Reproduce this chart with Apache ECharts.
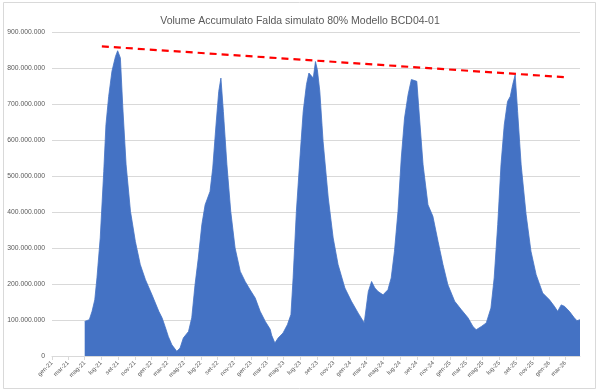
<!DOCTYPE html>
<html>
<head>
<meta charset="utf-8">
<script src="https://cdn.jsdelivr.net/npm/echarts@6/dist/echarts.min.js"></script>
<style>html,body{margin:0;padding:0;background:#fff}#c{width:600px;height:391px}</style>
</head>
<body>
<div id="c"></div>
<script>
const dates = [
'2021-05-01','2021-05-18','2021-05-28','2021-06-07','2021-06-15','2021-06-27','2021-07-10','2021-07-18','2021-07-28','2021-08-09',
'2021-08-22','2021-08-30','2021-09-09','2021-09-18','2021-09-30','2021-10-16','2021-11-03','2021-11-21','2021-12-10','2022-01-03',
'2022-01-28','2022-02-09','2022-02-20','2022-03-04','2022-03-17','2022-04-04','2022-04-16','2022-04-28','2022-05-17','2022-05-29',
'2022-06-10','2022-06-22','2022-07-05','2022-07-17','2022-08-04','2022-08-14','2022-08-26','2022-09-05','2022-09-13','2022-09-22',
'2022-10-05','2022-10-19','2022-11-04','2022-11-23','2022-12-11','2022-12-29','2023-01-17','2023-02-04','2023-02-23','2023-03-13',
'2023-03-18','2023-03-30','2023-04-11','2023-04-29','2023-05-15','2023-05-28','2023-06-05','2023-06-17','2023-06-30','2023-07-12',
'2023-07-24','2023-08-02','2023-08-09','2023-08-18','2023-08-26','2023-09-02','2023-09-11','2023-09-23','2023-10-12','2023-10-30',
'2023-11-17','2023-12-12','2024-01-05','2024-01-30','2024-02-21','2024-03-07','2024-03-19','2024-03-31','2024-04-12','2024-04-30',
'2024-05-18','2024-05-30','2024-06-11','2024-06-24','2024-07-06','2024-07-18','2024-07-31','2024-08-12','2024-08-18','2024-09-01',
'2024-09-11','2024-09-24','2024-10-12','2024-10-30','2024-11-18','2024-12-06','2024-12-24','2025-01-18','2025-02-11','2025-03-08',
'2025-03-26','2025-04-07','2025-04-26','2025-05-14','2025-05-19','2025-05-31','2025-06-12','2025-06-25','2025-07-07','2025-07-19',
'2025-07-31','2025-08-10','2025-08-19','2025-08-28','2025-09-06','2025-09-19','2025-10-07','2025-10-25','2025-11-13','2025-12-07',
'2026-01-01','2026-01-19','2026-01-31','2026-02-13','2026-02-25','2026-03-15','2026-04-02','2026-04-12','2026-04-23'
];
const volume = [
96,101,124,156,217,328,513,642,721,791,
832,848,828,689,531,402,318,254,212,170,
124,106,82,54,31,13,22,50,68,106,
198,272,365,420,457,522,642,735,772,679,
531,402,300,235,207,184,161,124,96,74,
58,36,50,64,87,115,217,402,550,679,
754,786,781,772,818,795,735,596,439,328,
254,189,152,119,92,179,207,189,179,170,
184,217,291,402,550,661,726,768,772,763,
661,531,420,388,318,254,198,152,129,106,
82,73,82,92,96,133,217,365,531,642,
707,721,754,781,679,531,394,291,226,175,
156,138,124,142,138,124,106,98,101
].map(v => v * 1e6);

const trendDates = ['2021-07-03', '2026-03-09'];
const trendValues = [860e6, 774e6];

const tickDates = [
'2021-01-01','2021-03-01','2021-05-01','2021-07-01','2021-09-01','2021-11-01',
'2022-01-01','2022-03-01','2022-05-01','2022-07-01','2022-09-01','2022-11-01',
'2023-01-01','2023-03-01','2023-05-01','2023-07-01','2023-09-01','2023-11-01',
'2024-01-01','2024-03-01','2024-05-01','2024-07-01','2024-09-01','2024-11-01',
'2025-01-01','2025-03-01','2025-05-01','2025-07-01','2025-09-01','2025-11-01',
'2026-01-01','2026-03-01'
];
const tickLabels = [
'gen-21','mar-21','mag-21','lug-21','set-21','nov-21',
'gen-22','mar-22','mag-22','lug-22','set-22','nov-22',
'gen-23','mar-23','mag-23','lug-23','set-23','nov-23',
'gen-24','mar-24','mag-24','lug-24','set-24','nov-24',
'gen-25','mar-25','mag-25','lug-25','set-25','nov-25',
'gen-26','mar-26'
];
const axisMin = '2021-01-01';
const axisMax = '2026-04-23';

// day number since 1970 (value axis in days)
const dn = s => { const p = s.split('-'); return Date.UTC(+p[0], +p[1]-1, +p[2]) / 86400000; };
const tickDn = tickDates.map(dn);
const fmtIt = v => String(Math.round(v)).replace(/\B(?=(\d{3})+(?!\d))/g, '.');

const chart = echarts.init(document.getElementById('c'), null, {renderer: 'canvas'});
chart.setOption({
  animation: false,
  backgroundColor: '#fff',
  title: {
    text: 'Volume Accumulato Falda simulato 80% Modello BCD04-01',
    left: 'center', top: 11,
    textStyle: {fontFamily: 'Liberation Sans', fontSize: 10.5, fontWeight: 'normal', color: '#595959'}
  },
  graphic: [{
    type: 'rect', shape: {x: 3.5, y: 2.5, width: 592, height: 386},
    style: {fill: 'none', stroke: '#d9d9d9', lineWidth: 1}, silent: true, z: -1
  }],
  grid: {left: 52, right: 20, top: 32, bottom: 35},
  xAxis: {
    type: 'value',
    min: dn(axisMin), max: dn(axisMax),
    axisLine: {show: true, onZero: false, lineStyle: {color: '#d9d9d9', width: 1}},
    axisTick: {show: true, length: 4, lineStyle: {color: '#d9d9d9'}, customValues: tickDn},
    splitLine: {show: false},
    axisLabel: {
      customValues: tickDn,
      rotate: 45, margin: 6,
      fontFamily: 'Liberation Sans', fontSize: 6, color: '#595959',
      formatter: v => { const i = tickDn.indexOf(v); return i >= 0 ? tickLabels[i] : ''; }
    }
  },
  yAxis: {
    type: 'value', min: 0, max: 900e6, interval: 100e6,
    axisLine: {show: false}, axisTick: {show: false},
    splitLine: {lineStyle: {color: '#d9d9d9', width: 1}},
    axisLabel: {
      margin: 7, fontFamily: 'Liberation Sans', fontSize: 6.8, color: '#595959',
      formatter: fmtIt
    }
  },
  series: [
    {
      type: 'line', name: 'Volume',
      data: dates.map((d, i) => [dn(d), volume[i]]),
      symbol: 'none',
      lineStyle: {color: '#4472C4', width: 0.8},
      areaStyle: {color: '#4472C4', opacity: 1},
      z: 2
    },
    {
      type: 'line', name: 'Trend',
      data: trendDates.map((d, i) => [dn(d), trendValues[i]]),
      symbol: 'none',
      lineStyle: {color: '#ff0000', width: 2.2, type: [7, 5]},
      z: 3
    }
  ]
});
</script>
</body>
</html>
